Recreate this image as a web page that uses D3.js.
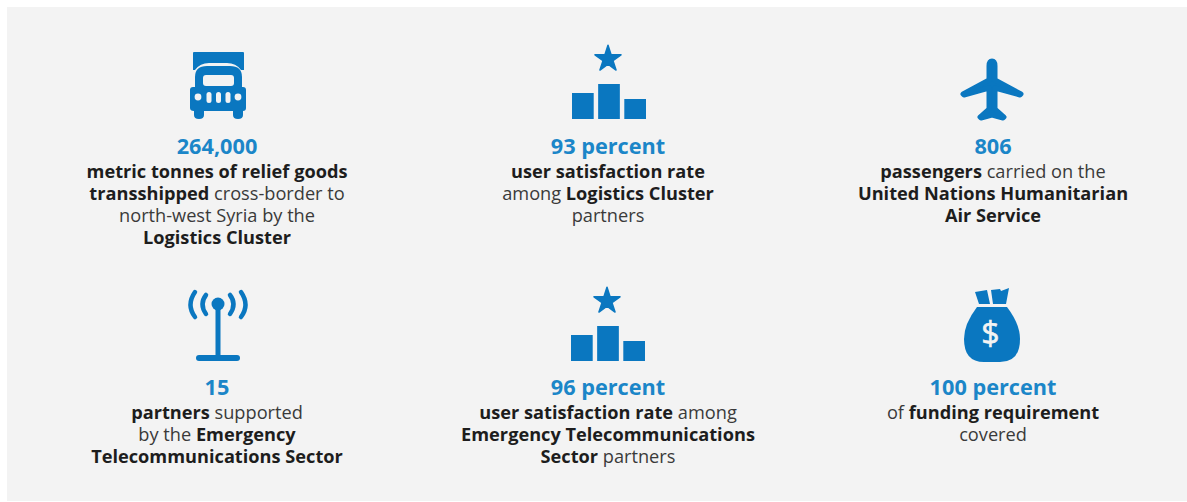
<!DOCTYPE html>
<html>
<head>
<meta charset="utf-8">
<script src="https://cdn.jsdelivr.net/npm/d3@7"></script>
<style>
  html, body { margin: 0; padding: 0; background: #fff; }
  svg { display: block; }
  text { font-family: "Open Sans", sans-serif; }
</style>
</head>
<body>
<script>
// Headline figures, left to right then top to bottom
const headlines = ["264,000", "93 percent", "806", "15", "96 percent", "100 percent"];

// Body copy, one array per cell, each line is a list of [text, isBold] runs
const body0 = [
  [["metric tonnes of relief goods", true]],
  [["transshipped", true], [" cross-border to", false]],
  [["north-west Syria by the", false]],
  [["Logistics Cluster", true]]
];
const body1 = [
  [["user satisfaction rate", true]],
  [["among ", false], ["Logistics Cluster", true]],
  [["partners", false]]
];
const body2 = [
  [["passengers", true], [" carried on the", false]],
  [["United Nations Humanitarian", true]],
  [["Air Service", true]]
];
const body3 = [
  [["partners", true], [" supported", false]],
  [["by the ", false], ["Emergency", true]],
  [["Telecommunications Sector", true]]
];
const body4 = [
  [["user satisfaction rate", true], [" among", false]],
  [["Emergency Telecommunications", true]],
  [["Sector", true], [" partners", false]]
];
const body5 = [
  [["of ", false], ["funding requirement", true]],
  [["covered", false]]
];
const bodies = [body0, body1, body2, body3, body4, body5];

// Relative heights of the three podium bars in the rating icon
const podiumBars = [26, 35, 20];
const podiumNames = ["a", "b", "c"];

const W = 1187, H = 502;
const iconBlue = "#0a77c0";
const headBlue = "#1b86c8";
const panel = "#f3f3f3";
const ink = "#1d1d1d";
const bodyInk = "#3a3a3a";

const svg = d3.select("body").append("svg")
  .attr("width", W)
  .attr("height", H);

svg.append("rect")
  .attr("x", 7).attr("y", 7)
  .attr("width", W - 7).attr("height", H - 8)
  .attr("fill", panel);

// Cell centres
const colX = d3.scaleOrdinal().domain([0, 1, 2]).range([217, 608, 993]);
const rowY = d3.scaleOrdinal().domain([0, 1]).range([154, 395]);

// Text blocks
const cells = svg.selectAll(".cell")
  .data(headlines)
  .enter()
  .append("g")
  .attr("class", "cell")
  .attr("transform", (d, i) => "translate(" + colX(i % 3) + "," + rowY(Math.floor(i / 3)) + ")");

cells.append("text")
  .attr("text-anchor", "middle")
  .attr("font-size", 21.7)
  .attr("font-weight", 700)
  .attr("fill", headBlue)
  .text(d => d);

cells.each(function(d, i) {
  const lines = d3.select(this).selectAll(".line")
    .data(bodies[i])
    .enter()
    .append("text")
    .attr("class", "line")
    .attr("text-anchor", "middle")
    .attr("font-size", 18.2)
    .attr("y", (l, j) => 23.5 + j * 22);

  lines.selectAll("tspan")
    .data(l => l)
    .enter()
    .append("tspan")
    .attr("font-weight", r => r[1] ? 700 : 400)
    .attr("fill", r => r[1] ? ink : bodyInk)
    .text(r => r[0]);
});

// Icons
function truck(g) {
  g.append("path").attr("fill", iconBlue)
    .attr("d", "M193,53 Q193,52 194,52 H243 Q244,52 244,53 V70 H241 Q236,63 227,63 H209 Q200,63 195,70 H193 Z");
  g.append("path").attr("fill", iconBlue)
    .attr("d", "M195,87 V77 Q195,66 207,66 H230 Q242,66 242,77 V87 H243 Q246,87 246,90 V108 Q246,111 243,111 " +
      "V115 Q243,119 238,119 Q233,119 233,115 V111 H204 V115 Q204,119 199,119 Q194,119 194,115 V111 " +
      "Q190,111 190,108 V90 Q190,87 193,87 Z");
  g.append("rect").attr("x", 203).attr("y", 75).attr("width", 31).attr("height", 11).attr("rx", 3).attr("fill", panel);
  [198, 238].forEach(x => {
    g.append("circle").attr("cx", x).attr("cy", 97).attr("r", 3.4).attr("fill", panel);
  });
  [209, 218.5, 228].forEach(x => {
    g.append("rect").attr("x", x - 2.5).attr("y", 92).attr("width", 5).attr("height", 11).attr("rx", 2.5).attr("fill", panel);
  });
}

function podium(g, x0, baseY) {
  const band = d3.scaleBand().domain(podiumNames).range([x0, x0 + 74]).paddingInner(0.17);
  const h = d3.scaleLinear().domain([0, 35]).range([0, 35]);

  g.selectAll(".podium")
    .data(podiumBars)
    .enter()
    .append("rect")
    .attr("class", "podium")
    .attr("x", (d, i) => band(podiumNames[i]))
    .attr("y", d => baseY - h(d))
    .attr("width", band.bandwidth())
    .attr("height", d => h(d))
    .attr("fill", iconBlue);

  g.append("path")
    .attr("transform", "translate(" + (x0 + 36) + "," + (baseY - 60) + ")")
    .attr("d", d3.symbol(d3.symbolStar, 210))
    .attr("fill", iconBlue)
    .attr("stroke", iconBlue)
    .attr("stroke-width", 1.5)
    .attr("stroke-linejoin", "round");
}

function plane(g) {
  g.append("path")
    .attr("fill", iconBlue)
    .attr("stroke", iconBlue)
    .attr("stroke-width", 5)
    .attr("stroke-linejoin", "round")
    .attr("d", "M992,61 Q995,61 995,66 V80 L1021,94 L1020,95 L995,88 V109 L1004,117 L1003,118 L992,115 " +
      "L981,118 L980,117 L989,109 V88 L964,95 L963,94 L989,80 V66 Q989,61 992,61 Z");
}

function antenna(g) {
  g.append("rect").attr("x", 215.5).attr("y", 304).attr("width", 5).attr("height", 52).attr("fill", iconBlue);
  g.append("circle").attr("cx", 218).attr("cy", 304).attr("r", 6.5).attr("fill", iconBlue);
  g.append("line").attr("x1", 199).attr("x2", 237).attr("y1", 358).attr("y2", 358)
    .attr("stroke", iconBlue).attr("stroke-width", 6).attr("stroke-linecap", "round");
  const arcs = [
    "M206,295 Q199,304 206,314",
    "M195,292 Q186,305 195,317",
    "M230,295 Q237,304 230,314",
    "M241,292 Q250,305 241,317"
  ];
  arcs.forEach(a => {
    g.append("path").attr("d", a).attr("fill", "none")
      .attr("stroke", iconBlue).attr("stroke-width", 4.5).attr("stroke-linecap", "round");
  });
}

function moneyBag(g) {
  g.append("path").attr("fill", iconBlue)
    .attr("d", "M975,292 L987,290 L990,304 H979 Z M991,290 L1000,289 L1001,291 L1009,288 L1006,304 H993 Z");
  g.append("path").attr("fill", iconBlue)
    .attr("d", "M977,307 H1007 Q1020,324 1020,339 Q1020,362 1000,362 H984 Q964,362 964,339 Q964,324 977,307 Z");
  g.append("text")
    .attr("x", 990.5).attr("y", 345)
    .attr("text-anchor", "middle")
    .attr("font-size", 32)
    .attr("font-weight", 400)
    .attr("fill", panel)
    .attr("stroke", panel)
    .attr("stroke-width", 0.6)
    .text("$");
}

truck(svg.append("g"));
podium(svg.append("g"), 572, 119);
plane(svg.append("g"));
antenna(svg.append("g"));
podium(svg.append("g"), 571, 361);
moneyBag(svg.append("g"));
</script>
</body>
</html>
